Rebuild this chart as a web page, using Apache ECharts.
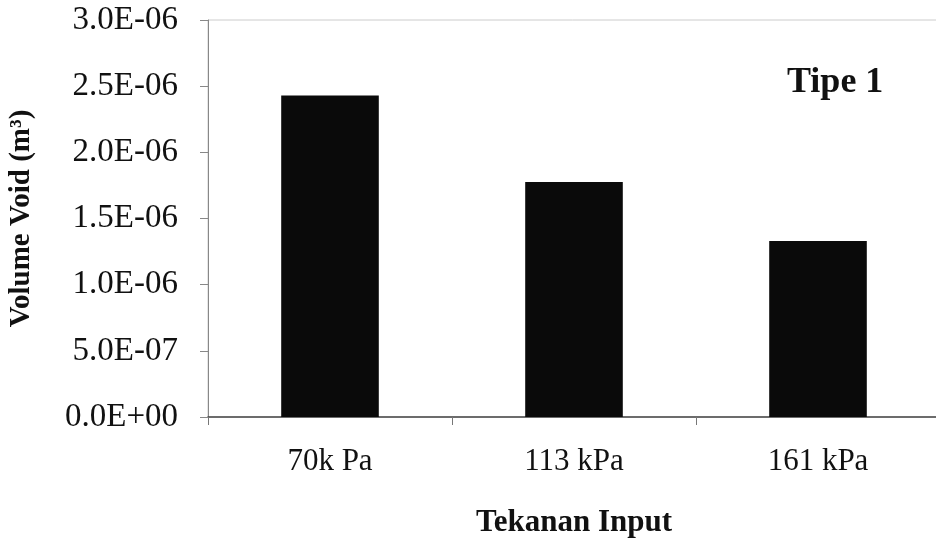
<!DOCTYPE html>
<html>
<head>
<meta charset="utf-8">
<script src="https://cdn.jsdelivr.net/npm/echarts@6/dist/echarts.min.js"></script>
<style>html,body{margin:0;padding:0;background:#fff}#c{width:936px;height:542px}</style>
</head>
<body>
<div id="c"></div>
<script>
const categories = ['70k Pa', '113 kPa', '161 kPa'];
const voidVolume = [2.43e-6, 1.775e-6, 1.33e-6];
const yTicks = { min: 0, max: 3e-6, interval: 5e-7 };
const chartTitle = 'Tipe 1';
const xName = 'Tekanan Input';
const yName = 'Volume Void (m³)';

function fmtExp(v) {
  let s = Number(v).toExponential(1).toUpperCase();
  return s.replace(/E([+-])(\d)$/, 'E$10$2');
}

const serif = '"Liberation Serif", "DejaVu Serif", serif';
const chart = echarts.init(document.getElementById('c'));
chart.setOption({
  backgroundColor: '#ffffff',
  animation: false,
  title: {
    text: chartTitle, left: 782, top: 60,
    textStyle: { fontFamily: serif, fontWeight: 'bold', fontSize: 36, color: '#111' }
  },
  grid: {
    left: 208, top: 20, bottom: 125, width: 732,
    outerBoundsMode: 'none',
    show: true, borderColor: '#cccccc', borderWidth: 1, backgroundColor: 'transparent'
  },
  xAxis: {
    type: 'category',
    data: categories,
    name: xName,
    nameLocation: 'middle',
    nameGap: 90,
    nameTextStyle: { fontFamily: serif, fontWeight: 'bold', fontSize: 31, color: '#111' },
    axisLine: { lineStyle: { color: '#444', width: 1.5 } },
    axisTick: { show: true, length: 8, lineStyle: { color: '#777' }, alignWithLabel: false },
    axisLabel: { fontFamily: serif, fontSize: 31, color: '#111', margin: 29 },
    splitLine: { show: false }
  },
  yAxis: {
    type: 'value',
    min: yTicks.min, max: yTicks.max, interval: yTicks.interval,
    name: yName,
    nameLocation: 'middle',
    nameGap: 172,
    nameRotate: 90,
    nameTextStyle: { fontFamily: serif, fontWeight: 'bold', fontSize: 29, color: '#111' },
    axisLine: { show: true, lineStyle: { color: '#888', width: 1 } },
    axisTick: { show: true, length: 8, lineStyle: { color: '#888' } },
    axisLabel: { fontFamily: serif, fontSize: 33, color: '#111', margin: 30, formatter: fmtExp },
    splitLine: { show: false }
  },
  series: [{
    type: 'bar',
    data: voidVolume,
    barWidth: '40%',
    itemStyle: { color: '#0a0a0a' }
  }]
});
</script>
</body>
</html>
